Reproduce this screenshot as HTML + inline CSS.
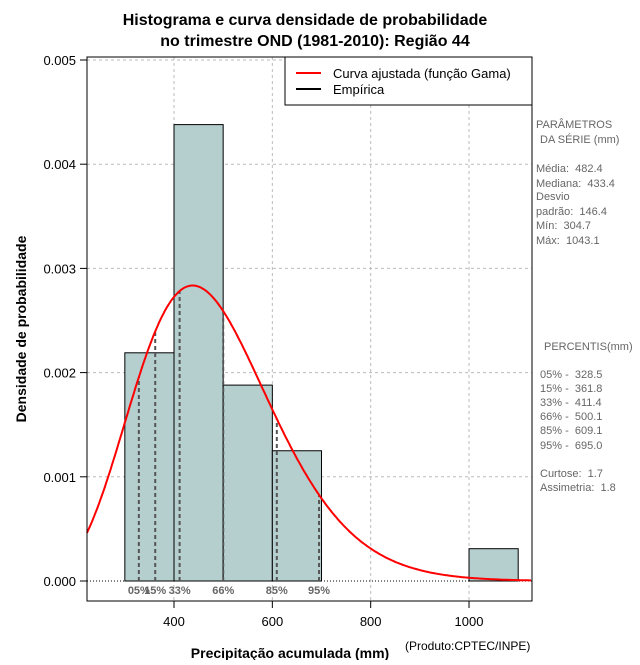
<!DOCTYPE html>
<html><head><meta charset="utf-8"><style>
body{margin:0;background:#fff;font-family:"Liberation Sans",sans-serif}
svg text{font-family:"Liberation Sans",sans-serif;white-space:pre}
</style></head><body>
<svg id="c" width="640" height="660" xmlns="http://www.w3.org/2000/svg" xml:space="preserve">
<text x="305" y="25" text-anchor="middle" font-size="16" font-weight="bold">Histograma e curva densidade de probabilidade</text>
<text x="315" y="46" text-anchor="middle" font-size="16" font-weight="bold">no trimestre OND (1981-2010): Região 44</text>
<g id="grid"></g><g id="bars"></g><g id="pct"></g><g id="curve"></g><g id="axes"></g>
<rect x="87" y="57" width="445" height="544" fill="none" stroke="#000"/>
<g>
<rect x="285" y="57" width="247" height="48" fill="#fff" stroke="#000"/>
<line x1="296" y1="73" x2="321" y2="73" stroke="red" stroke-width="2"/>
<text x="333" y="78" font-size="13">Curva ajustada (função Gama)</text>
<line x1="296" y1="89" x2="321" y2="89" stroke="#000" stroke-width="2"/>
<text x="333" y="94" font-size="13">Empírica</text>
</g>
<g font-size="11" fill="#666">
<text x="536" y="128">PARÂMETROS</text><text x="540" y="143">DA SÉRIE (mm)</text>
<text x="536" y="172">Média:  482.4</text><text x="536" y="187">Mediana:  433.4</text>
<text x="536" y="200">Desvio</text><text x="536" y="215">padrão:  146.4</text>
<text x="536" y="229">Mín:  304.7</text><text x="536" y="244">Máx:  1043.1</text>
</g>
<g font-size="11" fill="#666">
<text x="544" y="350">PERCENTIS(mm)</text>
<text x="540" y="378">05% -  328.5</text><text x="540" y="392">15% -  361.8</text>
<text x="540" y="406">33% -  411.4</text><text x="540" y="420">66% -  500.1</text>
<text x="540" y="434">85% -  609.1</text><text x="540" y="449">95% -  695.0</text>
<text x="540" y="477">Curtose:  1.7</text><text x="540" y="491">Assimetria:  1.8</text>
</g>
<text x="290" y="658" text-anchor="middle" font-size="14" font-weight="bold">Precipitação acumulada (mm)</text>
<text x="405" y="650" font-size="12">(Produto:CPTEC/INPE)</text>
<text transform="translate(26,329) rotate(-90)" text-anchor="middle" font-size="14" font-weight="bold">Densidade de probabilidade</text>
</svg>
<script>
const binStarts=[300,400,500,600,1000];
const binDensity=[0.00219,0.00438,0.00188,0.00125,0.00031];
const binWidth=100;
const pctLabels=["05%","15%","33%","66%","85%","95%"];
const pctValues=[328.5,361.8,411.4,500.1,609.1,695.0];
const gammaMean=482.4, gammaSd=146.4;
const xTicks=[400,600,800,1000];
const yTicks=[0,0.001,0.002,0.003,0.004,0.005];
const yTickLabels=["0.000","0.001","0.002","0.003","0.004","0.005"];
const NS="http://www.w3.org/2000/svg";
const X=v=>174+(v-400)*0.4917;
const Y=v=>581-v*104200;
function mk(p,t,a){const e=document.createElementNS(NS,t);for(const k in a)e.setAttribute(k,a[k]);document.getElementById(p).appendChild(e);return e;}
function lg(z){const c=[76.18009173,-86.50532033,24.01409824,-1.231739572,0.1208650973e-2,-0.5395239385e-5];let x=z,y=z,t=x+5.5;t-=(x+0.5)*Math.log(t);let s=1.000000000190015;for(const q of c)s+=q/++y;return -t+Math.log(2.5066282746310005*s/x);}
const k=(gammaMean/gammaSd)**2, th=gammaSd*gammaSd/gammaMean, lgk=lg(k);
const pdf=x=>Math.exp((k-1)*Math.log(x)-x/th-lgk-k*Math.log(th));
xTicks.forEach(v=>{const l=mk('grid','line',{x1:X(v),x2:X(v),y1:57,y2:601,stroke:'#bbb','stroke-dasharray':'3,3'});});
yTicks.forEach(v=>{const l=mk('grid','line',{x1:87,x2:532,y1:Y(v),y2:Y(v),stroke:v===0?'#000':'#bbb','stroke-dasharray':v===0?'1,2':'3,3'});});
binStarts.forEach((b,i)=>{const r=mk('bars','rect',{x:X(b),y:Y(binDensity[i]),width:X(b+binWidth)-X(b),height:Y(0)-Y(binDensity[i]),fill:'#b5cece',stroke:'#000'});});
pctValues.forEach((p,i)=>{const l=mk('pct','line',{x1:X(p),x2:X(p),y1:Y(0),y2:Y(pdf(p)),stroke:'#555','stroke-width':2,'stroke-dasharray':'4,3'});
const t=mk('pct','text',{x:X(p),y:594,'text-anchor':'middle','font-size':11,'font-weight':'bold',fill:'#666'});t.textContent=pctLabels[i];});
let d='';for(let x=223;x<=1128;x+=3){d+=(d?'L':'M')+X(x).toFixed(1)+','+Y(pdf(x)).toFixed(1);}
const cv=mk('curve','path',{d:d,fill:'none',stroke:'red','stroke-width':2});
xTicks.forEach(v=>{mk('axes','line',{x1:X(v),x2:X(v),y1:601,y2:608,stroke:'#000'});const t=mk('axes','text',{x:X(v),y:626,'text-anchor':'middle','font-size':13});t.textContent=v;});
yTicks.forEach((v,i)=>{mk('axes','line',{x1:80,x2:87,y1:Y(v),y2:Y(v),stroke:'#000'});const t=mk('axes','text',{x:76,y:Y(v)+5,'text-anchor':'end','font-size':13});t.textContent=yTickLabels[i];});
</script>
</body></html>
